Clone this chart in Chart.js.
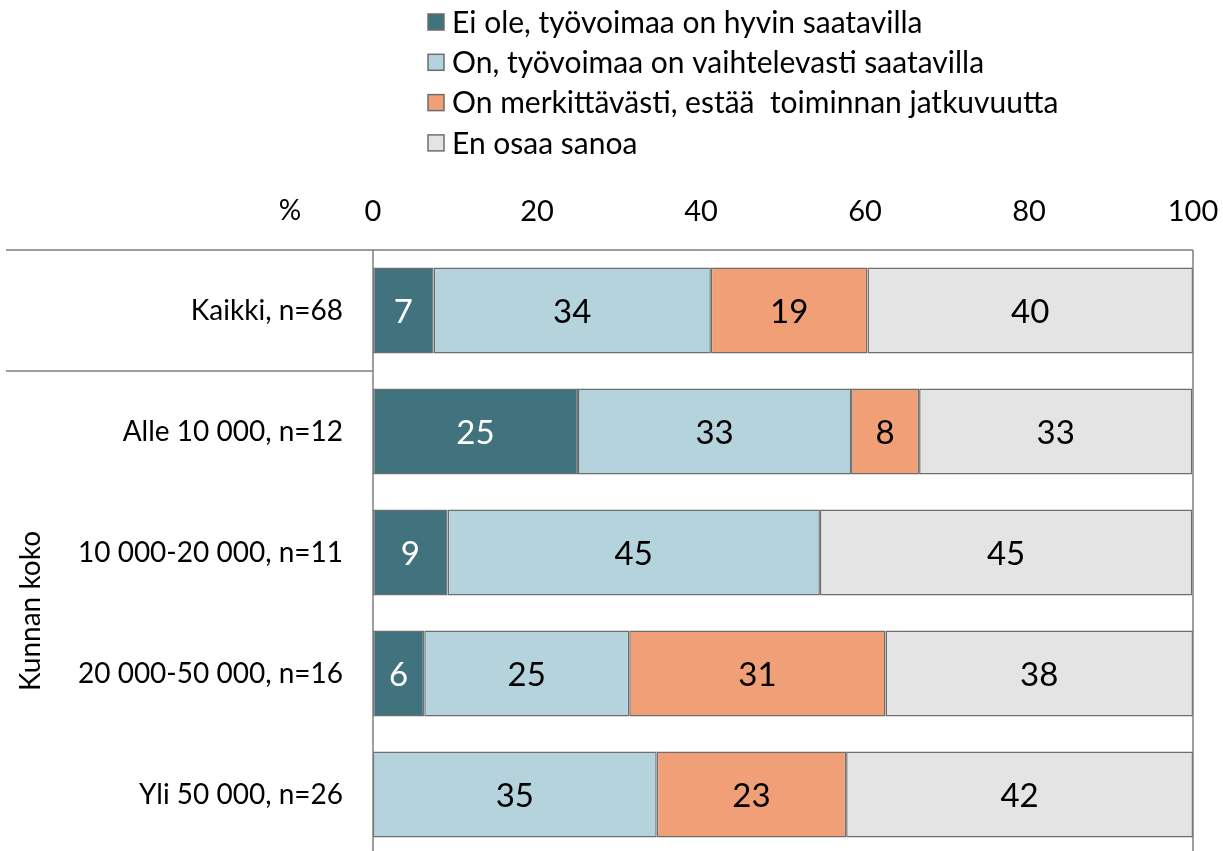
<!DOCTYPE html>
<html>
<head>
<meta charset="utf-8">
<script src="https://cdn.jsdelivr.net/npm/chart.js@4.4.0/dist/chart.umd.min.js"></script>
<style>
  body { margin: 0; background: #fff; overflow: hidden; }
  #wrap { width: 1223px; height: 870px; }
</style>
</head>
<body>
<div id="wrap"><canvas id="mycanvas" width="1223" height="870"></canvas></div>
<script>
var categories = ["Kaikki, n=68", "Alle 10 000, n=12", "10 000-20 000, n=11", "20 000-50 000, n=16", "Yli 50 000, n=26"];
var seriesNames = ["Ei ole, työvoimaa on hyvin saatavilla", "On, työvoimaa on vaihtelevasti saatavilla", "On merkittävästi, estää  toiminnan jatkuvuutta", "En osaa sanoa"];
var eiOle = [7.4, 25, 9.1, 6.25, 0];
var vaihtelevasti = [33.8, 33.3, 45.4, 25, 34.6];
var merkittavasti = [19.1, 8.3, 0, 31.25, 23.1];
var enOsaa = [39.7, 33.3, 45.4, 37.5, 42.3];
var xTicks = [0, 20, 40, 60, 80, 100];
var colors = ["#41737f", "#b5d3dc", "#f19f76", "#e4e4e4"];
var labelColors = ["#ffffff", "#000000", "#000000", "#000000"];

var fontFam = "Lato, 'Open Sans', sans-serif";
var lineCol = "#7f7f7f";

var seriesData = [eiOle, vaihtelevasti, merkittavasti, enOsaa];
var datasets = [];
for (var i = 0; i < seriesData.length; i++) {
	datasets.push({
		label: seriesNames[i],
		data: seriesData[i],
		backgroundColor: colors[i],
		borderColor: "#6e6e6e",
		borderWidth: 1.5,
		borderSkipped: false,
		barPercentage: 0.71,
		categoryPercentage: 1
	});
}

// values inside bars
var valueLabels = {
	id: "valueLabels",
	afterDatasetsDraw: function(chart) {
		var ctx = chart.ctx;
		ctx.save();
		ctx.font = "33px " + fontFam;
		ctx.textAlign = "center";
		ctx.textBaseline = "middle";
		chart.data.datasets.forEach(function(ds, di) {
			var meta = chart.getDatasetMeta(di);
			meta.data.forEach(function(bar, j) {
				var v = ds.data[j];
				if (!v) return;
				ctx.fillStyle = labelColors[di];
				ctx.fillText(Math.round(v), (bar.x + bar.base) / 2, bar.y + 2);
			});
		});
		ctx.restore();
	}
};

// frame, separators, group title, % sign and legend
var extras = {
	id: "extras",
	afterDraw: function(chart) {
		var ctx = chart.ctx;
		var a = chart.chartArea;
		var y = chart.scales.y;
		var sep = (y.getPixelForValue(0) + y.getPixelForValue(1)) / 2;
		ctx.save();
		ctx.strokeStyle = lineCol;
		ctx.lineWidth = 1.5;
		ctx.beginPath();
		ctx.moveTo(6, a.top); ctx.lineTo(a.right, a.top);
		ctx.moveTo(a.left, a.top); ctx.lineTo(a.left, a.bottom);
		ctx.moveTo(a.right, a.top); ctx.lineTo(a.right, a.bottom);
		ctx.moveTo(6, sep); ctx.lineTo(a.left, sep);
		ctx.stroke();

		ctx.fillStyle = "#000";
		ctx.font = "28px " + fontFam;
		ctx.textAlign = "center";
		ctx.textBaseline = "middle";
		ctx.fillText("%", 290, 211);

		ctx.translate(31, (sep + a.bottom) / 2 - 2);
		ctx.rotate(-Math.PI / 2);
		ctx.font = "28px " + fontFam;
		ctx.fillText("Kunnan koko", 0, 0);
		ctx.restore();

		ctx.save();
		ctx.font = "30px " + fontFam;
		ctx.textAlign = "left";
		ctx.textBaseline = "middle";
		chart.data.datasets.forEach(function(ds, di) {
			var ly = 22 + di * 40.3;
			ctx.fillStyle = ds.backgroundColor;
			ctx.fillRect(428, ly - 8, 16, 16);
			ctx.strokeStyle = "#6e6e6e";
			ctx.lineWidth = 1.5;
			ctx.strokeRect(428, ly - 8, 16, 16);
			ctx.fillStyle = "#000";
			ctx.fillText(ds.label, 452, ly + 1);
		});
		ctx.restore();
	}
};

var ctx = document.getElementById("mycanvas");
var chart = new Chart(ctx, {
	type: "bar",
	data: { labels: categories, datasets: datasets },
	options: {
		indexAxis: "y",
		responsive: false,
		animation: false,
		layout: { padding: { top: 198, right: 30, bottom: 15, left: 0 } },
		plugins: { legend: { display: false }, tooltip: { enabled: false } },
		scales: {
			x: {
				position: "top",
				stacked: true,
				min: 0,
				max: 100,
				afterBuildTicks: function(scale) {
					scale.ticks = xTicks.map(function(v) { return { value: v }; });
				},
				afterFit: function(scale) {
					scale.height = 52;
					scale.paddingLeft = 0;
					scale.paddingRight = 0;
				},
				grid: { display: false, drawTicks: false },
				border: { display: false },
				ticks: { color: "#000", padding: 21, font: { family: fontFam, size: 29 } }
			},
			y: {
				stacked: true,
				afterFit: function(scale) {
					scale.width = 373;
					scale.paddingTop = 0;
					scale.paddingBottom = 0;
				},
				grid: { display: false, drawTicks: false },
				border: { display: false },
				ticks: { color: "#000", padding: 30, font: { family: fontFam, size: 28 } }
			}
		}
	},
	plugins: [valueLabels, extras]
});
</script>
</body>
</html>
